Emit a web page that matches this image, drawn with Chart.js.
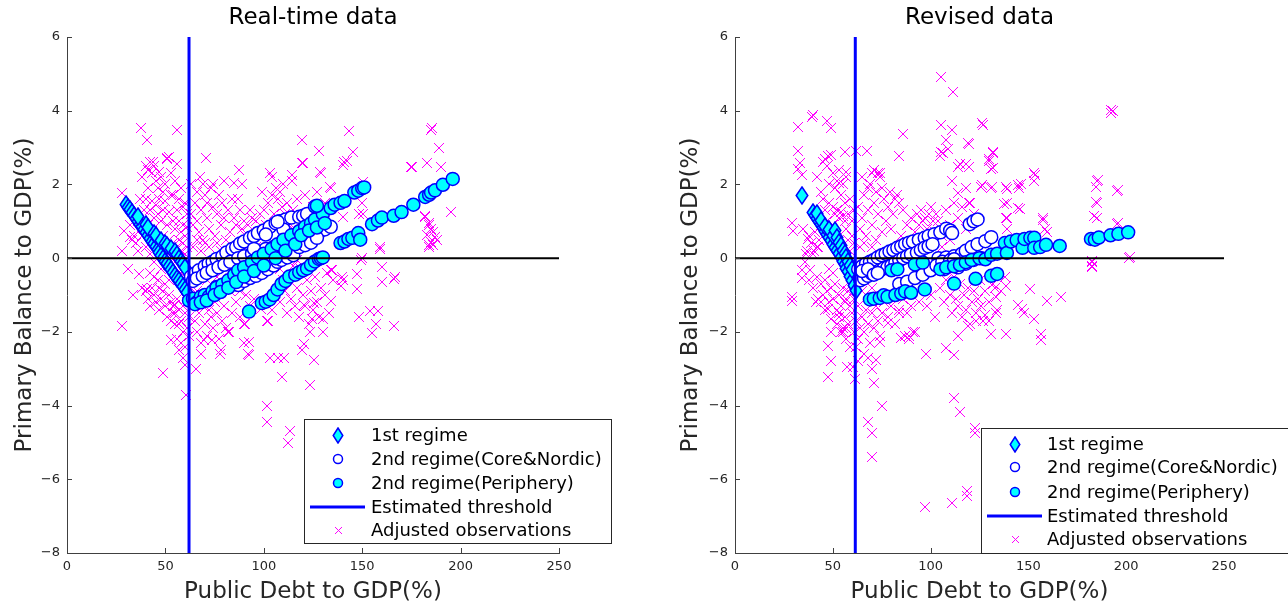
<!DOCTYPE html>
<html>
<head>
<meta charset="utf-8">
<script src="https://cdn.jsdelivr.net/npm/chart.js@4.4.1/dist/chart.umd.min.js"></script>
<style>
html,body{margin:0;padding:0;background:#fff;}
#wrap{position:relative;width:1288px;height:611px;overflow:hidden;}
#c1{position:absolute;left:0;top:0;}
#c2{position:absolute;left:640px;top:0;}
</style>
</head>
<body>
<div id="wrap">
<canvas id="c1" width="640" height="611"></canvas>
<canvas id="c2" width="648" height="611"></canvas>
</div>
<script>
// ---------------- DATA ----------------
const xTicks = [0, 50, 100, 150, 200, 250];
const yTicks = [-8, -6, -4, -2, 0, 2, 4, 6];
const legendLabels = ['1st regime', '2nd regime(Core&Nordic)', '2nd regime(Periphery)', 'Estimated threshold', 'Adjusted observations'];
const panelTitles = ['Real-time data', 'Revised data'];
const xTitle = 'Public Debt to GDP(%)';
const yTitle = 'Primary Balance to GDP(%)';

const rtThreshold = 62;
const rvThreshold = 61.5;

// Real-time: 1st regime (diamonds)
const rtFirst = [[30,1.46],[31,1.38],[32,1.31],[33,1.23],[34,1.15],[35,1.08],[36,1.0],[37,0.92],[38,0.85],[39,0.77],[40,0.69],[41,0.62],[42,0.54],[43,0.46],[44,0.39],[45,0.31],[46,0.23],[47,0.15],[48,0.08],[49,0.0],[50,-0.08],[51,-0.15],[52,-0.23],[53,-0.31],[54,-0.38],[55,-0.46],[56,-0.54],[57,-0.62],[58,-0.69],[59,-0.77],[60,-0.85],[61,-0.92],
 [36,1.12],[40,0.9],[41,0.83],[44,0.68],[45,0.62],[48,0.48],[50,0.41],[51,0.35],[53,0.25],[55,0.17],[56,0.1],[57,-0.02],[58,-0.08],[59,-0.15],[60,-0.25]];
// Real-time: 2nd regime Core&Nordic (white circles)
const rtCore = [[63,-0.5],[65,-0.42],[67,-0.33],[70,-0.22],[72,-0.15],[74,-0.1],[76,-0.02],[79,0.05],[81,0.15],[84,0.25],[86,0.3],[88,0.4],[90,0.45],[93,0.55],[95,0.6],[97,0.68],[100,0.75],[103,0.85],[106,0.95],[108,1.0],[111,1.05],[114,1.1],[118,1.12],[120,1.15],[122,1.2],
 [64,-0.62],[66,-0.55],[69,-0.48],[71,-0.4],[74,-0.33],[77,-0.25],[80,-0.18],[83,-0.1],[87,0.0],[90,0.05],[94,0.12],[97,0.18],[101,0.25],[105,0.3],[109,0.38],[113,0.45],[116,0.5],[119,0.55],[122,0.6],[126,0.65],[128,0.7],[131,0.78],[134,0.85],
 [76,-0.78],[80,-0.72],[84,-0.68],[87,-0.73],[90,-0.62],[93,-0.54],[96,-0.48],[99,-0.4],[102,-0.3],[105,-0.2],[107,-0.1],[109,-0.05],[112,0.02],[115,0.08],[118,0.3],[121,0.35],[124,0.42],[127,0.55],
 [95,0.25],[101,0.64],[110,0.78],[107,0.99]];
// Real-time: 2nd regime Periphery (cyan circles)
const rtPeriph = [[62,-1.15],[64,-1.1],[66,-1.2],[68,-1.05],[70,-1.0],[72,-1.05],[74,-0.9],[76,-0.8],[79,-0.72],[82,-0.6],[85,-0.45],[87,-0.33],[90,-0.25],[94,-0.1],[97,0.02],[100,0.12],[104,0.25],[107,0.38],[110,0.5],[114,0.62],[118,0.73],[121,0.85],[124,0.95],[126,1.05],[130,1.2],[134,1.36],[136,1.45],[139,1.5],[141,1.55],[146,1.78],[148,1.83],[150,1.9],[151,1.92],
 [65,-1.25],[68,-1.2],[71,-1.15],[75,-1.0],[78,-0.92],[82,-0.8],[86,-0.65],[90,-0.5],[95,-0.35],[100,-0.2],[106,0.0],[111,0.2],[116,0.38],[119,0.62],[123,0.75],[127,0.83],[131,0.95],[126,1.4],[127,1.42],
 [99,-1.22],[101,-1.18],[103,-1.12],[105,-1.0],[107,-0.85],[109,-0.7],[111,-0.62],[113,-0.5],[116,-0.45],[118,-0.38],[120,-0.33],[122,-0.28],[124,-0.18],[126,-0.09],[128,-0.02],[129,0.0],[130,0.02],
 [139,0.41],[141,0.45],[143,0.52],[145,0.55],[148,0.68],[149,0.5],[155,0.92],[158,1.02],[160,1.1],[166,1.15],[170,1.25],[176,1.45],[182,1.66],[184,1.72],[185,1.78],[187,1.84],[191,1.99],[196,2.15],
 [92.5,-1.45]];
// Real-time: adjusted observations (x markers)
const rtObs = [[37.4,3.52],[40.5,3.21],[56.1,3.49],[51,2.73],[43.6,2.6],[70.7,2.73],[87.3,2.39],[85.1,2.05],[67.5,2.2],[102.9,2.31],[114.3,2.26],[114.3,2.1],[119.5,3.21],[119.5,2.57],[127.8,2.92],[129,2.31],[134,1.91],[143.4,3.45],[145.5,2.89],[142.3,2.63],[140.3,2.54],[185,3.49],[189,3.0],[190.2,2.47],[182.9,2.57],[174.6,2.47],[195.3,1.26],[181.8,1.15],[183.9,0.94],[185,0.78],[182.9,0.62],[187,0.57],[186,0.36],[183.9,0.31],[166.3,-0.56],[160,-0.24],[160,-0.66],[159,0.25],[148.6,1.2],[149.6,-0.06],[147.5,-0.43],[147.5,-0.85],[140.3,-0.59],[139,-0.75],[134,-0.33],[134,-1.17],[148.6,-1.59],[153.8,-1.43],[157.9,-1.43],[156.9,-1.8],[154.8,-2.03],[166.3,-1.85],[129.9,-1.64],[129.9,-2.01],[123.6,-2.01],[125.7,-1.22],[120.5,-1.27],[124.7,-1.64],[119.5,-2.49],[120.5,-2.33],[125.7,-2.75],[123.6,-3.43],[109.1,-3.22],[102.9,-2.7],[107,-2.7],[110.2,-2.7],[92.5,-2.28],[92.5,-2.64],[90.4,-1.8],[101.8,-4.02],[101.8,-4.44],[113.3,-4.7],[112.2,-5.02],[98.7,-1.38],[101.8,-1.7],[82.1,-2.01],[77.9,-2.59],[73.8,-2.22],[69.6,-2.22],[65.5,-3.01],[60.3,-3.7],[48.8,-3.12],[53,-2.22],[28.1,-1.85],[33.3,-1.01],[31.2,-0.3],[28.1,0.2],[29.1,0.73],[28.1,1.78],[31.8,0.57],[36.4,-0.43],[40.5,-0.85],[55.1,-1.27],
 [127,1.8],[150.4,2.07],[150,1.5],[150.4,1.2],[140,1.12],[159,0.3],[150,0.0],[134.6,-0.33],[139.8,-0.5],[166.7,-0.5],[185.6,3.54],[175.3,2.47],[182,1.12],[184,0.9],[186,0.7],[188,0.5],[185,0.45],[184,0.35],[133.6,1.93],[128.6,2.34],[141,2.6],[145.3,2.88],[120,2.58],
 [38,2.2],[40,2.5],[41,2.4],[42,2.6],[43,2.3],[44,2.5],[45,2.1],[46,1.9],[47,2.35],[48,2.2],[49,1.8],[50,2.0],[51,2.7],[52,2.75],[53,2.3],[54,1.7],[55,2.1],[56,2.55],[57,1.6],[58,1.9],[59,1.4],[60,1.5],[61,1.2],[40,1.6],[41,1.9],[42,1.3],[43,1.55],[44,1.1],[45,1.45],[46,1.2],[47,1.6],[48,1.0],[49,1.3],[50,1.55],[51,0.9],[52,1.25],[53,1.7],[54,1.0],[55,0.8],[56,1.3],[57,1.0],[58,0.7],[59,0.9],[60,0.6],[61,0.85],[36,1.0],[37,1.6],[38,0.6],[39,1.3],[40,0.3],[41,0.9],[42,0.1],[43,0.75],[44,-0.1],[45,0.55],[46,0.0],[47,0.4],[48,-0.3],[49,0.6],[50,0.2],[51,-0.2],[52,0.5],[53,0.1],[54,0.4],[55,-0.1],[56,0.3],[57,0.5],[58,0.2],[59,0.4],[60,0.1],[61,0.3],[35,0.4],[34,0.6],[33,0.5],[32,0.9],[36,0.2],
 [40,-0.9],[41,-1.1],[42,-1.3],[43,-0.8],[44,-1.0],[45,-1.2],[46,-0.6],[47,-1.4],[48,-1.1],[49,-0.9],[50,-1.3],[51,-1.6],[52,-1.0],[53,-1.2],[54,-1.5],[55,-1.8],[56,-1.1],[57,-1.4],[58,-1.7],[59,-2.0],[60,-1.5],[61,-1.9],[56,-2.2],[57,-2.5],[58,-2.3],[59,-2.7],[60,-2.4],[61,-1.2],[62,-1.6],[62,-2.1],[53,-1.7],[54,-1.3],[55,-1.5],[57,-1.8],[59,-1.3],[60,-0.8],[61,-0.5],[58,-0.4],[52,-0.6],[50,-0.7],[47,-0.8],[44,-0.5],[38,-0.8],[42,-0.4],[60,-2.9],
 [63,1.2],[64,0.9],[65,1.5],[66,1.0],[67,0.7],[68,1.3],[69,0.5],[70,1.7],[71,1.1],[72,0.8],[73,1.9],[74,1.4],[75,0.6],[76,1.2],[77,1.7],[78,0.9],[79,1.5],[80,1.1],[82,1.3],[83,0.7],[84,1.6],[85,1.1],[86,0.9],[88,1.3],[89,0.8],[90,1.0],[64,0.3],[66,0.5],[68,0.2],[70,0.4],[72,0.3],[63,2.0],[66,1.8],[69,2.0],[71,1.5],[74,2.0],[76,0.4],[78,0.2],[81,0.5],[87,1.6],[89,2.0],[80,2.1],[91,0.6],[93,1.3],[92,0.9],[94,1.1],
 [96,1.0],[98,1.2],[100,1.3],[101,0.9],[102,1.5],[103,2.3],[104,1.7],[105,1.2],[106,1.9],[107,1.6],[108,1.8],[109,1.4],[110,2.0],[111,1.2],[112,1.5],[113,0.9],[115,1.3],[117,1.6],[119,1.0],[121,1.7],[123,1.1],[125,1.4],[127,1.8],[129,1.2],[131,1.5],[104,2.2],[99,1.8],[97,0.7],[116,0.8],[124,0.7],[128,1.0],
 [63,-0.8],[64,-1.3],[65,-1.7],[66,-2.0],[67,-1.5],[68,-2.3],[69,-1.3],[70,-1.8],[71,-2.1],[72,-1.4],[73,-1.6],[74,-1.9],[75,-1.2],[76,-1.5],[77,-2.2],[78,-2.5],[79,-1.7],[80,-1.3],[81,-1.9],[82,-2.0],[84,-1.5],[86,-1.2],[88,-1.6],[90,-1.8],[91,-1.0],[93,-1.3],[95,-1.1],[66,-0.9],[71,-0.6],[76,-0.5],[83,-0.9],[88,-0.9],[90,-2.3],[92,-2.6],[68,-2.6],
 [102,-1.7],[104,-1.4],[106,-0.9],[108,-1.2],[110,-0.6],[112,-1.5],[114,-1.1],[116,-1.3],[117,-0.8],[118,-1.6],[120,-1.0],[121,-1.3],[122,-0.6],[123,-1.8],[124,-0.9],[125,-1.4],[126,-0.5],[127,-1.2],[128,-1.6],[129,-0.8],[131,-1.0],[132,-0.4],[133,-1.5],[135,-0.6],[119,-0.3],[115,-0.2],[108,-0.3],[111,-0.9],
 [92,0.2],[96,0.3],[101,0.0],[105,-0.1],[112,0.2],[117,-0.05]];

// Revised: 1st regime (diamonds)
const rvFirst = [[34,1.71],[40,1.25],[41,1.15],[42,1.08],[43,1.0],[44,0.92],[45,0.82],[46,0.72],[47,0.65],[48,0.55],[49,0.47],[50,0.38],[51,0.3],[52,0.2],[53,0.12],[54,0.02],[55,-0.08],[56,-0.17],[57,-0.27],[58,-0.37],[59,-0.5],[60,-0.62],[61,-0.75],[62,-0.88],
 [42,1.2],[44,1.02],[46,0.85],[48,0.77],[50,0.62],[51,0.74],[52,0.55],[53,0.42],[54,0.33],[55,0.22],[56,0.12],[57,0.02],[58,-0.1],[59,-0.2],[60,-0.32]];
// Revised: 2nd regime Core&Nordic
const rvCore = [[63,-0.3],[65,-0.22],[67,-0.15],[69,-0.1],[71,-0.05],[73,0.02],[75,0.08],[77,0.12],[79,0.18],[81,0.22],[83,0.28],[85,0.32],[87,0.38],[89,0.42],[91,0.45],[94,0.5],[97,0.55],[99,0.6],[102,0.65],[105,0.7],[108,0.8],[110,0.75],[111,0.68],[120,0.92],[122,1.0],[124,1.05],
 [64,-0.6],[66,-0.55],[68,-0.48],[70,-0.42],[72,-0.38],[74,-0.33],[76,-0.28],[78,-0.25],[80,-0.2],[82,-0.12],[84,-0.06],[86,0.0],[88,0.05],[90,0.1],[93,0.15],[95,0.22],[97,0.28],[99,0.32],[101,0.38],[104,0.0],[108,0.02],[112,0.05],[116,0.12],[118,0.2],[121,0.3],[124,0.38],[128,0.46],[131,0.57],
 [84,-0.7],[88,-0.64],[92,-0.54],[96,-0.45],[100,-0.33],[103,-0.2],[106,-0.1],[110,-0.06],[112,-0.03],[107,-0.3],[114,-0.25],[118,-0.15],[122,-0.05],[126,0.0],
 [65,-0.35],[68,-0.3],[71,-0.45],[73,-0.4]];
// Revised: 2nd regime Periphery
const rvPeriph = [[69,-1.12],[71,-1.1],[74,-1.08],[76,-1.01],[78,-1.05],[82,-1.0],[85,-0.96],[87,-0.9],[90,-0.94],[97,-0.85],[112,-0.69],[123,-0.56],[131,-0.48],[134,-0.43],
 [80,-0.33],[83,-0.3],[92,-0.17],[96,-0.12],[105,-0.3],[108,-0.25],[112,-0.22],[115,-0.18],[118,-0.11],[121,-0.05],[125,0.0],[128,-0.03],[131,0.09],[134,0.12],[138,0.41],[139,0.14],[141,0.45],[144,0.49],[147,0.28],[148,0.52],[151,0.55],[153,0.55],[153,0.28],[156,0.3],[159,0.36],[166,0.33],[182,0.52],[184,0.5],[186,0.56],[192,0.62],[196,0.66],[201,0.7]];
// Revised: adjusted observations
const rvObs = [[105.3,4.92],[111.4,4.5],[40,3.89],[39.6,3.82],[32,3.55],[46.8,3.73],[48.9,3.52],[32,2.92],[32,2.42],[34.1,2.26],[33.1,2.57],[105.3,3.6],[110.9,3.47],[107.8,3.21],[108.9,2.96],[105.3,2.89],[104.7,2.78],[106.5,2.85],[126.8,3.6],[119.4,3.1],[86.1,3.36],[84,2.78],[62.1,2.92],[67.4,2.92],[56.2,2.89],[56.9,2.35],[47.8,2.78],[53.1,2.05],[69.9,2.31],[74.1,2.31],[114.2,2.47],[114.2,1.78],[111,2.1],[119.4,2.47],[118.3,1.89],[132,2.84],[130,2.63],[131,2.42],[125.7,1.94],[131,1.89],[138.4,1.94],[137.3,1.47],[138.4,1.1],[144.7,1.99],[145.4,1.89],[144.7,1.36],[153.1,2.31],[153.1,2.1],[157.3,1.04],[159.4,0.71],[185.3,2.1],[184.7,1.94],[184.7,1.52],[183.7,1.13],[192.1,3.95],[192.4,4.02],[195.2,1.82],[195.2,0.92],[201.6,0.0],[182.6,-0.09],[182.6,-0.22],[166.8,-1.06],[159.4,-1.17],[156.3,-2.06],[156.3,-2.22],[153.1,-1.64],[151,-0.85],[144.7,-1.27],[146.8,-1.38],[147.8,-1.48],[138.4,-2.06],[138.4,-0.75],[133,-0.8],[131,-2.06],[133.2,-1.48],[133.2,-1.06],[128,-1.54],[130,-1.7],[123,-1.7],[119,-1.85],[114.2,-2.12],[112,-2.64],[107.8,-2.43],[97.9,-2.59],[91,-2.0],[89,-2.1],[84.7,-2.17],[83.6,-1.48],[78.3,-1.75],[74.1,-2.28],[72,-2.75],[67.8,-2.7],[69.9,-3.01],[71,-3.38],[75.2,-4.01],[67.8,-4.44],[69.9,-4.75],[69.9,-5.39],[112,-3.8],[115.2,-4.17],[122.6,-4.6],[122.6,-4.75],[118.4,-6.33],[118.4,-6.44],[111,-6.65],[97.3,-6.75],[61.5,-3.28],[60.4,-2.96],[57.3,-2.96],[47.8,-3.22],[48.9,-2.8],[47.8,-2.38],[48.9,-2.01],[48.9,-1.64],[47.8,-1.38],[42.5,-1.12],[41.5,-1.2],[28.9,-1.06],[28.9,-1.17],[28.9,0.94],[29.9,0.73],[34.1,-0.33],[34.1,-0.54],[38.3,-0.33],[37.3,0.52],[36.2,0.1],[40.4,0.2],[42.5,0.3],[55.2,-2.01],[53.1,-1.48],[57,-1.9],
 [126.3,3.67],[119,3.13],[132,2.88],[130,2.7],[132,2.45],[115,2.55],[118,2.55],[126.3,1.98],[131.4,1.94],[139,1.87],[146,2.0],[153.4,2.26],[139,1.5],[145.5,1.33],[139,1.1],[157.5,1.08],[158.4,0.8],[139,0.8],[119.5,1.5],[118,1.9],[185.6,2.12],[185,1.5],[185,1.1],[196,1.85],[196,0.95],[202,0.03],[182.5,-0.1],[182.5,-0.25],[193.3,3.98],
 [42,2.2],[44,1.8],[45,2.6],[46,2.7],[47,2.5],[48,2.0],[49,2.8],[50,2.3],[51,1.9],[52,2.1],[53,2.4],[54,1.7],[55,2.0],[56,1.5],[57,2.2],[58,1.2],[59,1.6],[60,1.0],[61,1.3],[50,1.4],[51,1.2],[52,1.3],[53,1.1],[54,1.25],[55,1.15],[56,1.0],[48,1.5],[47,1.0],[46,1.3],[45,1.6],[44,0.9],[43,0.5],[42,0.3],[41,0.7],[40,0.1],[39,0.4],[38,0.6],[37,0.2],[36,-0.1],[35,0.8],[49,0.8],[50,0.9],[57,0.8],[58,0.5],[59,0.2],[60,0.6],[61,0.4],[53,0.5],
 [42,-0.5],[44,-0.7],[45,-1.0],[46,-0.6],[47,-0.9],[48,-1.2],[49,-0.8],[50,-1.1],[51,-0.7],[52,-1.4],[53,-1.0],[54,-1.3],[55,-0.8],[56,-1.6],[57,-1.1],[58,-1.8],[59,-1.3],[60,-1.5],[61,-2.0],[62,-1.7],[55,-1.9],[57,-2.2],[59,-2.4],[56,-1.2],[53,-1.6],[50,-0.4],[48,-0.3],[58,-0.9],[60,-0.7],[61,-1.1],[62,-2.4],[63,-1.3],[54,-2.0],[52,-1.8],[46,-1.4],[44,-1.2],[40,-0.8],[38,-0.6],
 [63,1.4],[64,0.8],[65,1.1],[66,1.7],[67,0.6],[68,1.3],[69,2.0],[70,0.9],[71,1.5],[72,1.8],[73,1.2],[74,2.2],[75,0.7],[76,1.6],[77,1.0],[78,1.4],[79,1.8],[80,0.8],[81,1.2],[82,1.6],[83,1.7],[84,1.5],[85,0.6],[86,1.3],[64,0.3],[66,0.4],[70,0.3],[72,0.5],[65,2.2],[68,1.9],[75,1.9],[71,2.4],[73,2.3],
 [88,0.9],[90,1.1],[92,0.7],[93,1.2],[94,0.9],[95,1.3],[96,1.0],[97,1.1],[98,0.8],[99,1.2],[100,1.4],[101,1.0],[102,0.7],[103,1.2],[104,1.0],[106,0.6],[108,1.3],[110,0.9],[112,1.5],[114,1.1],[116,1.4],[118,0.8],[120,1.5],[122,1.2],[110,0.5],[106,0.3],[96,0.5],[90,0.4],
 [105,-0.8],[107,-1.2],[108,-0.6],[110,-1.0],[111,-1.5],[112,-0.5],[113,-1.1],[114,-1.3],[115,-0.7],[116,-1.6],[117,-1.0],[118,-1.4],[119,-0.8],[120,-1.8],[121,-1.2],[122,-0.9],[123,-1.5],[124,-1.1],[125,-0.6],[126,-1.3],[127,-1.7],[128,-0.9],[130,-1.2],[132,-0.7],[134,-1.4],[136,-0.9],[138,-0.5],[100,-1.0],[98,-1.3],[102,-1.6],
 [63,-2.2],[64,-1.9],[65,-1.6],[66,-2.0],[67,-1.4],[68,-1.8],[69,-2.3],[70,-1.5],[71,-1.9],[72,-1.3],[73,-1.7],[74,-2.1],[75,-1.5],[76,-1.2],[78,-1.6],[80,-1.3],[82,-1.8],[84,-1.4],[86,-1.1],[88,-1.5],[90,-1.3],[92,-2.0],[94,-1.2],[65,-0.9],[70,-0.8],[63,-2.8],[66,-2.6],[87,-2.1],[89,-2.2]];

// ---------------- DRAWING ----------------
const FONT = "'DejaVu Sans', 'Liberation Sans', sans-serif";
const CYAN = '#00ffff', BLUE = '#0000ff', MAGENTA = '#ff00ff';

function diamondImg(w, h) {
  const c = document.createElement('canvas');
  c.width = w; c.height = h;
  const g = c.getContext('2d');
  g.beginPath();
  g.moveTo(w / 2, 1); g.lineTo(w - 1.2, h / 2); g.lineTo(w / 2, h - 1); g.lineTo(1.2, h / 2); g.closePath();
  g.fillStyle = CYAN; g.fill();
  g.lineWidth = 1.5; g.strokeStyle = BLUE; g.stroke();
  return c;
}
// crisp pixel "x" marker, like MATLAB's
function crossImg(n) {
  const c = document.createElement('canvas');
  c.width = n; c.height = n;
  const g = c.getContext('2d');
  g.fillStyle = MAGENTA;
  for (let i = 0; i < n; i++) { g.fillRect(i, i, 1, 1); g.fillRect(n - 1 - i, i, 1, 1); }
  return c;
}
const plotDiamond = diamondImg(14, 19);
const legendDiamond = diamondImg(12, 17);
const plotCross = crossImg(10);
const legendCross = crossImg(7);

const toXY = arr => arr.map(p => ({ x: p[0], y: p[1] }));

function pointSet(label, pts, style, radius, fill, stroke, bw, order) {
  return {
    label, data: toXY(pts), showLine: false, order,
    pointStyle: style, pointRadius: radius, pointHoverRadius: radius,
    pointBackgroundColor: fill, pointHoverBackgroundColor: fill, backgroundColor: fill,
    pointBorderColor: stroke, pointHoverBorderColor: stroke, borderColor: stroke,
    pointBorderWidth: bw, pointHoverBorderWidth: bw
  };
}

function makePanel(canvasId, opt) {
  const decor = {
    id: 'decor' + canvasId,
    beforeDatasetsDraw(chart) { chart.ctx.imageSmoothingEnabled = false; },
    afterDatasetsDraw(chart) {
      const ctx = chart.ctx, ca = chart.chartArea;
      const xs = chart.scales.x, ys = chart.scales.y;
      ctx.imageSmoothingEnabled = true;
      ctx.save();
      ctx.strokeStyle = '#404040'; ctx.lineWidth = 1;
      ctx.beginPath();
      yTicks.forEach(v => { const py = Math.round(ys.getPixelForValue(v)) + 0.5; ctx.moveTo(ca.left, py); ctx.lineTo(ca.left + 5, py); });
      xTicks.forEach(v => { const px = Math.round(xs.getPixelForValue(v)) + 0.5; ctx.moveTo(px, ca.bottom); ctx.lineTo(px, ca.bottom - 5); });
      ctx.stroke();
      ctx.restore();
    },
    afterDraw(chart) {
      const ctx = chart.ctx, ca = chart.chartArea;
      const cx = (ca.left + ca.right) / 2;
      ctx.save();
      ctx.fillStyle = '#000';
      ctx.font = '23px ' + FONT;
      ctx.textAlign = 'center'; ctx.textBaseline = 'middle';
      ctx.fillText(opt.title, cx, 18);
      ctx.fillStyle = '#262626';
      ctx.font = '23px ' + FONT;
      ctx.fillText(xTitle, cx, 592);
      ctx.translate(opt.yTitleX, (ca.top + ca.bottom) / 2);
      ctx.rotate(-Math.PI / 2);
      ctx.fillText(yTitle, 0, 0);
      ctx.restore();

      const L = opt.legend;
      ctx.save();
      ctx.fillStyle = '#fff';
      ctx.fillRect(L.x, L.y, L.w, L.h);
      ctx.strokeStyle = '#262626'; ctx.lineWidth = 1;
      ctx.strokeRect(L.x + 0.5, L.y + 0.5, L.w, L.h);
      ctx.font = '18px ' + FONT;
      ctx.textAlign = 'left'; ctx.textBaseline = 'middle';
      legendLabels.forEach((lab, i) => {
        const ry = L.rows[i];
        const sx = L.symX;
        if (i === 0) {
          ctx.drawImage(legendDiamond, Math.round(sx - legendDiamond.width / 2), Math.round(ry - legendDiamond.height / 2));
        } else if (i === 1 || i === 2) {
          ctx.beginPath(); ctx.arc(sx, ry, 4.5, 0, Math.PI * 2);
          ctx.fillStyle = i === 1 ? '#fff' : CYAN; ctx.fill();
          ctx.lineWidth = 1.5; ctx.strokeStyle = BLUE; ctx.stroke();
        } else if (i === 3) {
          ctx.beginPath(); ctx.moveTo(L.lineX0, ry); ctx.lineTo(L.lineX1, ry);
          ctx.lineWidth = 3; ctx.strokeStyle = BLUE; ctx.stroke();
        } else {
          ctx.drawImage(legendCross, Math.round(sx - 3.5), Math.round(ry - 3.5));
        }
        ctx.fillStyle = '#000';
        ctx.fillText(lab, L.textX, ry + 1);
      });
      ctx.restore();
    }
  };

  return new Chart(document.getElementById(canvasId), {
    type: 'scatter',
    data: {
      datasets: [
        { label: 'Estimated threshold', data: [{ x: opt.threshold, y: -8 }, { x: opt.threshold, y: 6 }], showLine: true, borderColor: BLUE, backgroundColor: BLUE, borderWidth: 3, pointRadius: 0, pointHoverRadius: 0, order: 0 },
        { label: 'zero', data: [{ x: 0, y: 0 }, { x: 250, y: 0 }], showLine: true, borderColor: '#000', backgroundColor: '#000', borderWidth: 2, pointRadius: 0, pointHoverRadius: 0, order: 1 },
        pointSet(legendLabels[2], opt.periph, 'circle', 6.5, CYAN, BLUE, 1.5, 2),
        pointSet(legendLabels[1], opt.core, 'circle', 6.5, '#ffffff', BLUE, 1.5, 3),
        pointSet(legendLabels[0], opt.first, plotDiamond, 7, CYAN, BLUE, 1.5, 4),
        pointSet(legendLabels[4], opt.obs, plotCross, 5, MAGENTA, MAGENTA, 1, 5)
      ]
    },
    options: {
      responsive: false, animation: false, devicePixelRatio: 1, events: [],
      layout: { padding: { left: 0, right: opt.padRight, top: 37, bottom: 0 } },
      plugins: { legend: { display: false }, tooltip: { enabled: false }, title: { display: false } },
      scales: {
        x: {
          type: 'linear', position: 'bottom', min: 0, max: 250,
          afterBuildTicks: s => { s.ticks = xTicks.map(v => ({ value: v })); },
          ticks: { font: { family: FONT, size: 13 }, color: '#262626', padding: 6, maxRotation: 0, autoSkip: false },
          grid: { display: false, drawTicks: false },
          border: { display: true, color: '#404040', width: 1 },
          afterFit: s => { s.height = 58; }
        },
        y: {
          type: 'linear', position: 'left', min: -8, max: 6,
          afterBuildTicks: s => { s.ticks = yTicks.map(v => ({ value: v })); },
          ticks: { font: { family: FONT, size: 13 }, color: '#262626', padding: 7, autoSkip: false,
                   callback: v => String(v).replace('-', '\u2212') },
          grid: { display: false, drawTicks: false },
          border: { display: true, color: '#404040', width: 1 },
          afterFit: s => { s.width = opt.yAxisWidth; }
        }
      }
    },
    plugins: [decor]
  });
}

makePanel('c1', {
  title: panelTitles[0], threshold: rtThreshold,
  first: rtFirst, core: rtCore, periph: rtPeriph, obs: rtObs,
  padRight: 81, yAxisWidth: 67, yTitleX: 25,
  legend: { x: 304, y: 419, w: 307, h: 124, rows: [435, 459, 483, 507, 530], symX: 338, lineX0: 310, lineX1: 365, textX: 371 }
});
makePanel('c2', {
  title: panelTitles[1], threshold: rvThreshold,
  first: rvFirst, core: rvCore, periph: rvPeriph, obs: rvObs,
  padRight: 64, yAxisWidth: 95, yTitleX: 51,
  legend: { x: 341, y: 428, w: 330, h: 125, rows: [444, 467, 492, 516, 539], symX: 375, lineX0: 347, lineX1: 402, textX: 407 }
});
</script>
</body>
</html>
